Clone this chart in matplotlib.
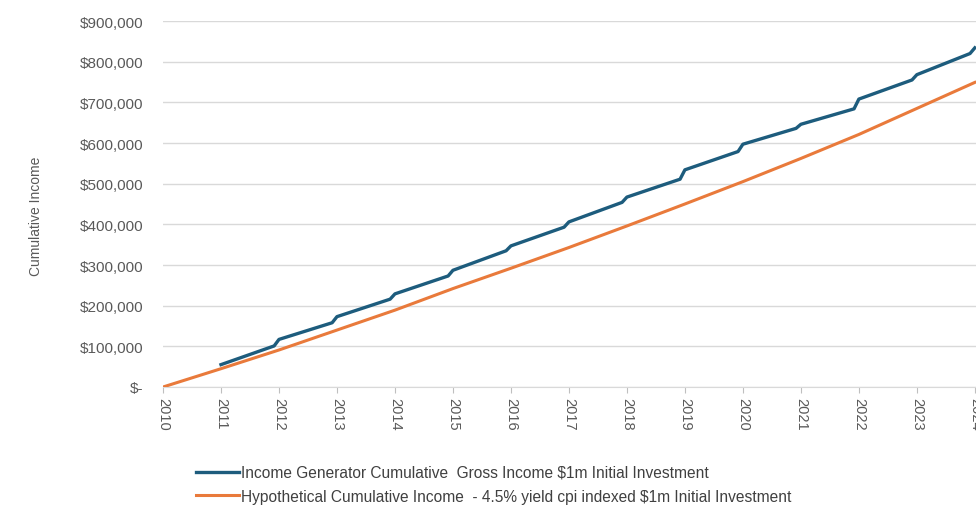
import matplotlib
matplotlib.use("Agg")
import matplotlib.pyplot as plt
from matplotlib.ticker import FuncFormatter
from matplotlib import font_manager

# cumulative income, values ($)
years = list(range(2010, 2025))
hypo_cum = [0, 45000, 91000, 140000, 189000, 242000, 292000, 343000, 396000,
            450000, 505000, 562000, 621000, 685000, 749000]

# income generator: value just after each January jump and just before the next one
gen_years = list(range(2011, 2025))
gen_start = [55000, 117000, 173000, 229000, 287000, 347000, 406000, 467000,
             534000, 597000, 646000, 708000, 768000, 834000]
gen_end = [101000, 158000, 216000, 273000, 335000, 393000, 454000, 511000,
           579000, 636000, 684000, 755000, 820000, None]

label_gen = "Income Generator Cumulative  Gross Income $1m Initial Investment"
label_hypo = "Hypothetical Cumulative Income  - 4.5% yield cpi indexed $1m Initial Investment"

BLUE = "#1d5c7d"
ORANGE = "#e97a3b"
GREY = "#595959"

names = {f.name for f in font_manager.fontManager.ttflist}
base_font = "Liberation Sans" if "Liberation Sans" in names else "DejaVu Sans"
narrow_font = "Liberation Sans Narrow" if "Liberation Sans Narrow" in names else base_font
plt.rcParams["font.family"] = base_font

# build the step-like series
gx, gy = [], []
for y, s, e in zip(gen_years, gen_start, gen_end):
    gx.append(y)
    gy.append(s)
    if e is not None:
        gx.append(y + 11 / 12)
        gy.append(e)

fig = plt.figure(figsize=(9.76, 5.06), dpi=100)
ax = fig.add_axes([163 / 976, (506 - 388) / 506, (976 - 163) / 976, (388 - 22) / 506])

l1, = ax.plot(gx, gy, color=BLUE, lw=2.4, zorder=3, solid_joinstyle="round")
l2, = ax.plot(years, hypo_cum, color=ORANGE, lw=2.2, zorder=4)

ax.set_xlim(2010, 2024.02)
ax.set_ylim(0, 900000)
ax.set_yticks(range(0, 900001, 100000))
ax.yaxis.set_major_formatter(FuncFormatter(lambda v, p: "$-" if v == 0 else f"${v:,.0f}"))
ax.set_xticks(years)
ax.set_xticklabels([str(y) for y in years], rotation=-90)

ax.grid(axis="y", color="#d9d9d9", lw=1)
ax.set_axisbelow(True)
for s in ["top", "right", "left"]:
    ax.spines[s].set_visible(False)
ax.spines["bottom"].set_color("#d9d9d9")
ax.tick_params(axis="y", length=0, pad=14, labelsize=11, labelcolor=GREY)
ax.tick_params(axis="x", length=4, color="#bfbfbf", pad=3, labelsize=10.5, labelcolor=GREY)

ax.set_ylabel("Cumulative Income", family=narrow_font, fontsize=10, color=GREY)
ax.yaxis.set_label_coords((43 - 163) / 813, 0.47)

fig.legend([l1, l2], [label_gen, label_hypo], loc="upper left",
           bbox_to_anchor=(196 / 976, 1 - 466 / 506), frameon=False,
           handlelength=2.75, handletextpad=0.15, labelspacing=0.55,
           fontsize=11.2, labelcolor="#404040", borderaxespad=0, borderpad=0)

fig.savefig("out.png", dpi=100)
